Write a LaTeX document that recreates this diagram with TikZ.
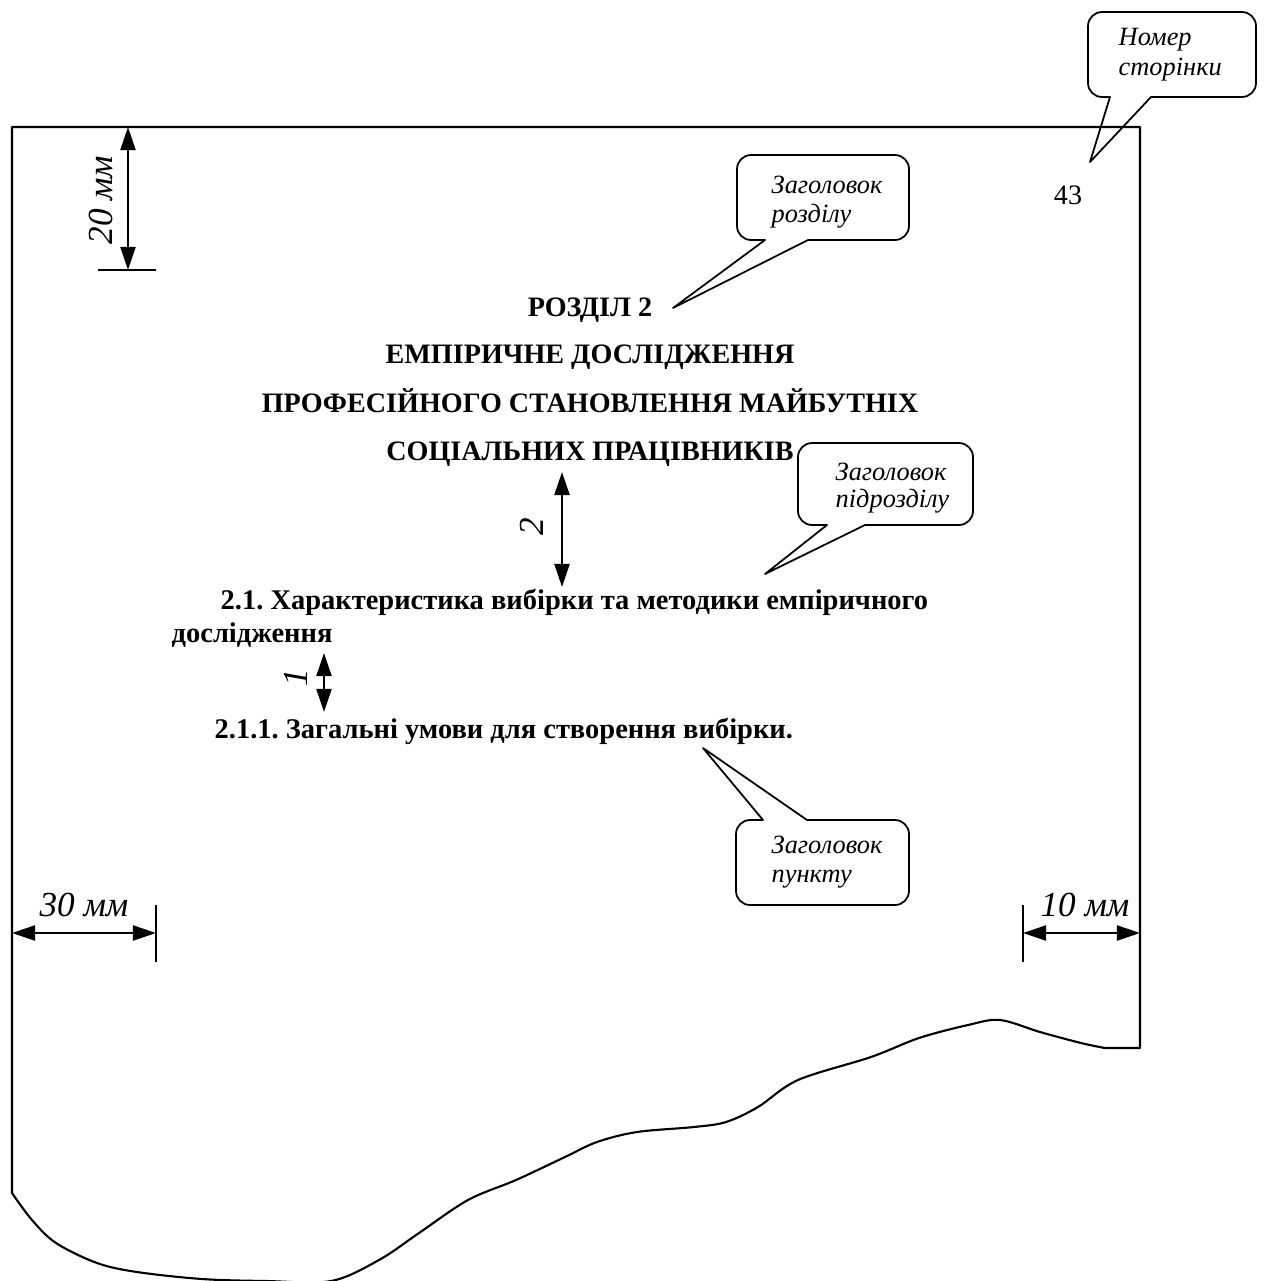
\documentclass[tikz,border=0pt]{standalone}
\usepackage{fontspec}
\setmainfont{Liberation Serif}
\usetikzlibrary{arrows.meta}
\frenchspacing
\begin{document}
\begin{tikzpicture}[x=0.01cm,y=-0.01cm,
  page/.style={line width=0.6pt, line join=round},
  head/.style={font=\fontsize{8}{9.6}\selectfont\bfseries, inner sep=0, anchor=base},
  subhead/.style={font=\fontsize{8.1}{9.7}\selectfont\bfseries, inner sep=0, anchor=base west},
  note/.style={font=\fontsize{7.5}{9}\selectfont\itshape, inner sep=0, anchor=base west},
  dimlabel/.style={font=\fontsize{10}{12}\selectfont\itshape, inner sep=0, anchor=base},
  callbox/.style={line width=0.5pt, line join=round},
  dimarrow/.style={line width=0.6pt, {Triangle[length=2.3mm,width=1.5mm]}-{Triangle[length=2.3mm,width=1.5mm]}},
  tickline/.style={line width=0.5pt}]

\useasboundingbox (0,0) rectangle (1264,1281);

% page outline with torn bottom
\draw[page] (12,1193) -- (12,127) -- (1140,127) -- (1140,1048) --
  plot[smooth, tension=0.55] coordinates {(1105,1048) (1081,1043) (1040,1032) (1000,1020)
  (968,1025) (919,1038) (871,1057) (798,1080) (758,1107) (726,1122) (694,1127)
  (637,1132) (597,1142) (565,1157) (516,1180) (468,1200) (419,1233) (379,1260)
  (331,1281) (266,1281) (202,1279) (137,1272) (97,1263) (56,1243) (32,1220) (12,1193)};

% headings
\node[head] (h1) at (590,316) {РОЗДІЛ 2};
\node[head] (h2) at (590,363) {ЕМПІРИЧНЕ ДОСЛІДЖЕННЯ};
\node[head] (h3) at (590,412) {ПРОФЕСІЙНОГО СТАНОВЛЕННЯ МАЙБУТНІХ};
\node[head] (h4) at (590,460) {СОЦІАЛЬНИХ ПРАЦІВНИКІВ};
\node[subhead] (s1) at (220,609) {2.1. Характеристика вибірки та методики емпіричного};
\node[subhead] (s1b) at (171,642) {дослідження};
\node[subhead] (s2) at (214,738) {2.1.1. Загальні умови для створення вибірки.};
\node[font=\fontsize{8}{9.6}\selectfont, inner sep=0, anchor=base] (pnum) at (1068,204) {43};

% callout: page number
\coordinate (t1) at (1090,162);
\draw[callbox] (t1) -- (1110,97) [rounded corners=4pt] -- (1088,97) -- (1088,12) -- (1256,12) -- (1256,97) [sharp corners] -- (1151,97) -- cycle;
\node[note] (c1a) at (1118,45) {Номер};
\node[note] (c1b) at (1118,75) {сторінки};

% callout: chapter heading
\coordinate (t2) at (673,308);
\draw[callbox] (t2) -- (765,240) [rounded corners=4pt] -- (737,240) -- (737,155) -- (909,155) -- (909,240) [sharp corners] -- (808,240) -- cycle;
\node[note] (c2a) at (771,193) {Заголовок};
\node[note] (c2b) at (771,222) {розділу};

% callout: subsection heading
\coordinate (t3) at (765,574);
\draw[callbox] (t3) -- (827,525) [rounded corners=4pt] -- (798,525) -- (798,443) -- (973,443) -- (973,525) [sharp corners] -- (865,525) -- cycle;
\node[note] (c3a) at (835,480) {Заголовок};
\node[note] (c3b) at (835,507) {підрозділу};

% callout: item heading
\coordinate (t4) at (703,748);
\draw[callbox] (t4) -- (763,820) [rounded corners=4pt] -- (736,820) -- (736,905) -- (909,905) -- (909,820) [sharp corners] -- (807,820) -- cycle;
\node[note] (c4a) at (771,853) {Заголовок};
\node[note] (c4b) at (771,882) {пункту};

% dimension: 20 mm
\coordinate (d20a) at (128,127);
\coordinate (d20b) at (128,270);
\coordinate (d20l) at (98,270);
\coordinate (d20r) at (156,270);
\draw[dimarrow] (d20a) -- (d20b);
\draw[tickline] (d20l) -- (d20r);
\node[dimlabel, rotate=90] (l20) at (112,200) {20 мм};

% dimension: 30 mm
\coordinate (d30a) at (12,933);
\coordinate (d30b) at (156,933);
\coordinate (d30t) at (156,905);
\coordinate (d30u) at (156,962);
\draw[dimarrow] (d30a) -- (d30b);
\draw[tickline] (d30t) -- (d30u);
\node[dimlabel] (l30) at (84,916) {30 мм};

% dimension: 10 mm
\coordinate (d10a) at (1023,933);
\coordinate (d10b) at (1140,933);
\coordinate (d10t) at (1023,905);
\coordinate (d10u) at (1023,962);
\draw[dimarrow] (d10a) -- (d10b);
\draw[tickline] (d10t) -- (d10u);
\node[dimlabel] (l10) at (1085,916) {10 мм};

% spacing 2
\coordinate (sp2a) at (562,472);
\coordinate (sp2b) at (562,587);
\draw[dimarrow] (sp2a) -- (sp2b);
\node[dimlabel, rotate=90] (l2) at (543,527) {2};

% spacing 1
\coordinate (sp1a) at (324,653);
\coordinate (sp1b) at (324,712);
\draw[dimarrow] (sp1a) -- (sp1b);
\node[dimlabel, rotate=90] (l1) at (307,678) {1};
\end{tikzpicture}
\end{document}
